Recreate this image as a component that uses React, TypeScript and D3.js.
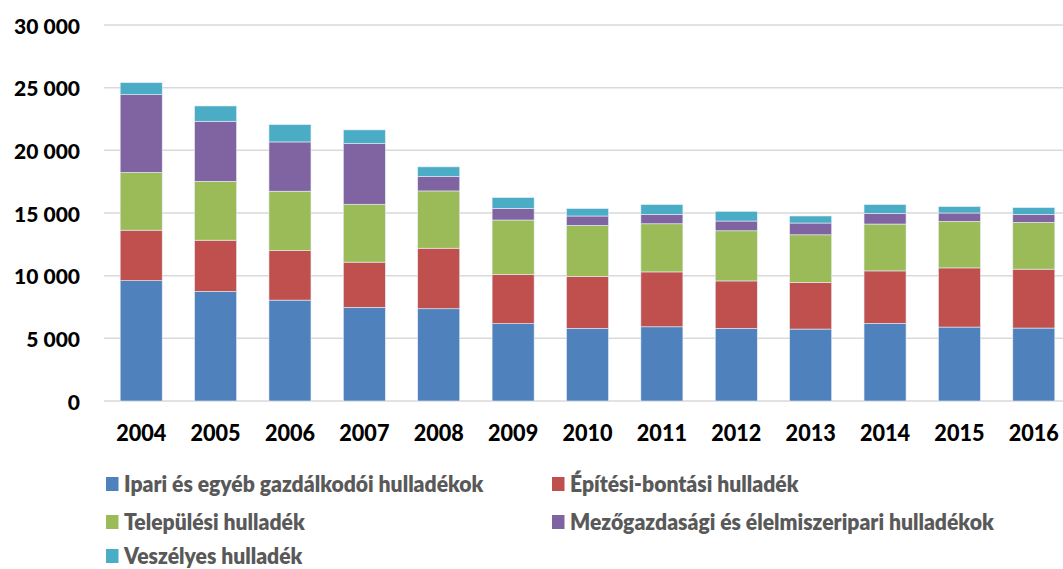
import React from 'react';
import * as d3 from 'd3';

// years on the x axis
const years = ['2004', '2005', '2006', '2007', '2008', '2009', '2010', '2011', '2012', '2013', '2014', '2015', '2016'];

// series values (thousand tonnes)
const ipari = [9600, 8740, 8050, 7470, 7360, 6170, 5790, 5920, 5790, 5740, 6190, 5900, 5820];
const epitesi = [4030, 4090, 3960, 3610, 4830, 3920, 4160, 4380, 3790, 3730, 4190, 4720, 4700];
const telepulesi = [4600, 4700, 4730, 4620, 4570, 4350, 4060, 3840, 4000, 3790, 3740, 3710, 3730];
const mezogazdasagi = [6210, 4790, 3930, 4840, 1170, 930, 750, 750, 780, 940, 850, 670, 640];
const veszelyes = [960, 1220, 1380, 1090, 750, 860, 590, 780, 770, 560, 700, 510, 540];

const yTicks = [0, 5000, 10000, 15000, 20000, 25000, 30000];

const seriesNames = [
  'Ipari és egyéb gazdálkodói hulladékok',
  'Építési-bontási hulladék',
  'Települési hulladék',
  'Mezőgazdasági és élelmiszeripari hulladékok',
  'Veszélyes hulladék',
];
const seriesColors = ['#4F81BD', '#C0504D', '#9BBB59', '#8064A2', '#4BACC6'];

const W = 1063;
const H = 569;

const huFormat = d3.formatLocale({ decimal: ',', thousands: ' ', grouping: [3], currency: ['', ''] }).format(',');

export default function App() {
  const keys = ['a', 'b', 'c', 'd', 'e'];
  const rows = years.map((yr, i) => ({
    year: yr,
    a: ipari[i],
    b: epitesi[i],
    c: telepulesi[i],
    d: mezogazdasagi[i],
    e: veszelyes[i],
  }));
  const stacked = d3.stack<any>().keys(keys)(rows);

  const x = d3.scaleBand().domain(years).range([104, 1071]).paddingInner(0.435).paddingOuter(0.2175);
  const y = d3.scaleLinear().domain([0, 30000]).range([401, 25]);

  const font = 'Lato, "DejaVu Sans", sans-serif';

  // legend slots: two columns, three rows
  const legendCols = [106, 552];
  const legendRows = [484, 522, 556];

  return (
    <div style={{ position: 'absolute', left: 0, top: 0 }}>
      <svg width={W} height={H} style={{ display: 'block', background: '#fff' }}>
        {/* gridlines */}
        {yTicks.map((t) => (
          <line key={'g' + t} x1={104} x2={1071} y1={y(t)} y2={y(t)} stroke="#d9d9d9" strokeWidth={1.5} />
        ))}

        {/* y tick labels */}
        {yTicks.map((t) => (
          <text
            key={'yt' + t}
            x={80}
            y={y(t)}
            textAnchor="end"
            dominantBaseline="central"
            fontFamily={font}
            fontWeight={900}
            fontSize={21}
            fill="#000"
          >
            {huFormat(t)}
          </text>
        ))}

        {/* stacked bars */}
        {stacked.map((s, si) => (
          <g key={s.key} fill={seriesColors[si]}>
            {s.map((d: any) => (
              <rect
                key={d.data.year}
                x={x(d.data.year)}
                width={x.bandwidth()}
                y={y(d[1])}
                height={y(d[0]) - y(d[1])}
                stroke="#e6eef7"
                strokeWidth={0.6}
              />
            ))}
          </g>
        ))}

        {/* x tick labels */}
        {years.map((yr) => {
          const cx = (x(yr) as number) + x.bandwidth() / 2;
          return (
            <text
              key={'xt' + yr}
              transform={`translate(${cx},441) scale(0.94,1)`}
              textAnchor="middle"
              fontFamily={font}
              fontWeight={900}
              fontSize={23}
              fill="#000"
            >
              {yr}
            </text>
          );
        })}

        {/* legend */}
        {seriesNames.map((name, i) => {
          const lx = legendCols[i % 2];
          const ly = legendRows[Math.floor(i / 2)];
          return (
            <g key={'lg' + i} transform={`translate(${lx},${ly})`}>
              <rect x={0} y={-7} width={12.5} height={14} fill={seriesColors[i]} />
              <text
                x={0}
                y={0}
                transform="translate(18,0) scale(0.96,1)"
                dominantBaseline="central"
                fontFamily={font}
                fontWeight={800}
                fontSize={22}
                fill="#595959"
              >
                {name}
              </text>
            </g>
          );
        })}
      </svg>
    </div>
  );
}
